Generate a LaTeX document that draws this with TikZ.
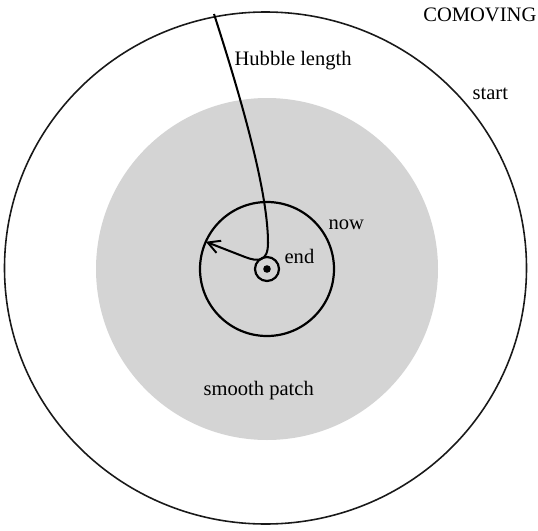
\documentclass[tikz,border=0pt]{standalone}
\usepackage{fontspec}
\setmainfont{Liberation Serif}
\usetikzlibrary{arrows.meta, calc, positioning}
\definecolor{patchGrey}{HTML}{D4D4D4}
\tikzset{
  every picture/.append style = {line width=0.7pt},
  lbl/.style = {font=\fontsize{11.7}{14}\selectfont, inner sep=0pt},
}

\begin{document}
\begin{tikzpicture}[x=0.02cm, y=0.02cm,
    ring/.style={line width=0.9pt, black!90},
    shell/.style={line width=1.25pt},
    hubble/.style={line width=1.15pt, -{Straight Barb[length=2.4mm, width=2.6mm, line width=1.1pt]}}]
  \useasboundingbox (0,0) rectangle (538,-531);
  % centre of everything
  \coordinate (c) at (267,-269);
  % smooth patch and comoving shells
  \fill[patchGrey] (c) circle [radius=171];
  \draw[ring] (265.5,-268) circle [x radius=261, y radius=256];
  \draw[shell] (c) circle [radius=67];
  \draw[shell] (c) circle [radius=12];
  \fill (c) circle [radius=3.8];
  % hubble length: from start shell down to now shell
  \coordinate (top) at (214,-14);
  \coordinate (tip) at ($(c)+(156:67)$);
  \draw[hubble] (top) .. controls (245,-110) and (268,-195) .. (268,-243)
    .. controls (268,-262) and (258,-262) .. (245,-257) -- (tip);
  % labels
  \node[lbl, anchor=base east] (comoving) at (537,-21) {COMOVING};
  \node[lbl, anchor=base west] (hubblelbl) at (234,-65) {Hubble length};
  \node[lbl, anchor=base west] (startlbl) at (472,-99) {start};
  \node[lbl, anchor=base west] (nowlbl) at (328,-229) {now};
  \node[lbl, anchor=base west] (endlbl) at (284,-263) {end};
  \node[lbl, anchor=base west] (patchlbl) at (203,-395) {smooth patch};
\end{tikzpicture}
\end{document}
